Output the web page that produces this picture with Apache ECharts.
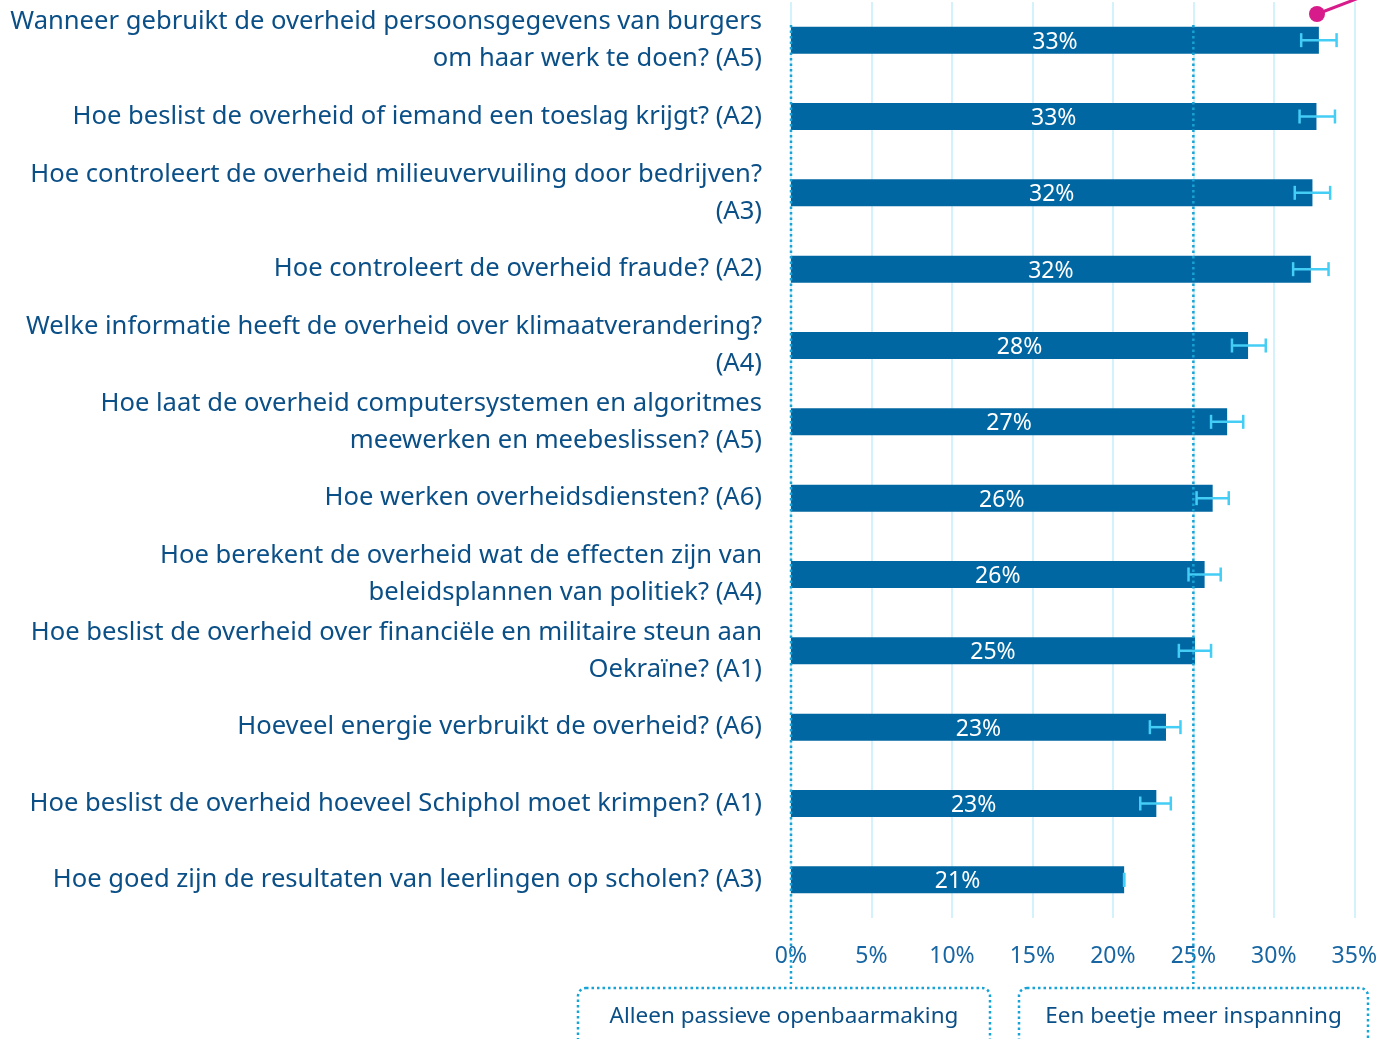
<!DOCTYPE html>
<html>
<head>
<meta charset="utf-8">
<script src="https://cdn.jsdelivr.net/npm/echarts@6/dist/echarts.min.js"></script>
<style>
  html, body { margin: 0; padding: 0; background: #fff; }
  #chart { width: 1380px; height: 1039px; }
</style>
</head>
<body>
<div id="chart"></div>
<script>
// categories top to bottom
const categories = [
  'Wanneer gebruikt de overheid persoonsgegevens van burgers\nom haar werk te doen? (A5)',
  'Hoe beslist de overheid of iemand een toeslag krijgt? (A2)',
  'Hoe controleert de overheid milieuvervuiling door bedrijven?\n(A3)',
  'Hoe controleert de overheid fraude? (A2)',
  'Welke informatie heeft de overheid over klimaatverandering?\n(A4)',
  'Hoe laat de overheid computersystemen en algoritmes\nmeewerken en meebeslissen? (A5)',
  'Hoe werken overheidsdiensten? (A6)',
  'Hoe berekent de overheid wat de effecten zijn van\nbeleidsplannen van politiek? (A4)',
  'Hoe beslist de overheid over financiële en militaire steun aan\nOekraïne? (A1)',
  'Hoeveel energie verbruikt de overheid? (A6)',
  'Hoe beslist de overheid hoeveel Schiphol moet krimpen? (A1)',
  'Hoe goed zijn de resultaten van leerlingen op scholen? (A3)'
];
const values = [32.8, 32.65, 32.4, 32.3, 28.4, 27.1, 26.2, 25.7, 25.1, 23.3, 22.7, 20.7];
const errLow = [31.7, 31.6, 31.3, 31.2, 27.4, 26.1, 25.2, 24.7, 24.1, 22.3, 21.7, 20.7];
const errHigh = [33.9, 33.8, 33.5, 33.4, 29.5, 28.1, 27.2, 26.7, 26.1, 24.2, 23.6, 20.7];
const xTicks = [0, 5, 10, 15, 20, 25, 30, 35];
const thresholds = [0, 25];
const zoneLabels = ['Alleen passieve openbaarmaking', 'Een beetje meer inspanning'];

const FONT = '"Source Sans Pro", "Noto Sans", sans-serif';
const chart = echarts.init(document.getElementById('chart'));

const option = {
  animation: false,
  textStyle: { fontFamily: FONT },
  grid: { left: 791, right: 25, top: 2, height: 916, containLabel: false },
  xAxis: {
    type: 'value',
    min: 0, max: 35, interval: 5,
    axisLine: { show: false },
    axisTick: { show: false },
    splitLine: { show: true, lineStyle: { color: '#d4f2fb', width: 2 } },
    axisLabel: {
      margin: 27,
      fontSize: 23,
      color: '#1766a3',
      fontFamily: FONT,
      formatter: v => xTicks.indexOf(v) >= 0 ? v + '%' : ''
    }
  },
  yAxis: {
    type: 'category',
    data: categories,
    inverse: true,
    axisLine: { show: false },
    axisTick: { show: false },
    axisLabel: {
      margin: 29,
      fontSize: 25.6,
      lineHeight: 37,
      color: '#0b4f87',
      align: 'right',
      fontFamily: FONT
    }
  },
  series: [
    {
      type: 'bar',
      data: values,
      barWidth: 27,
      itemStyle: { color: '#0067a2' },
      label: {
        show: true,
        position: 'inside',
        offset: [0, 2],
        color: '#fff',
        fontSize: 23,
        fontFamily: FONT,
        formatter: p => Math.round(p.value) + '%'
      },
      z: 2
    },
    {
      type: 'custom',
      z: 5,
      data: values.map((v, i) => [i, errLow[i], errHigh[i]]),
      renderItem: function (params, api) {
        const i = api.value(0);
        const lo = api.coord([api.value(1), i]);
        const hi = api.coord([api.value(2), i]);
        const h = 7;
        const style = { stroke: '#44cdf5', lineWidth: 2.5 };
        return {
          type: 'group',
          children: [
            { type: 'line', shape: { x1: lo[0], y1: lo[1], x2: hi[0], y2: hi[1] }, style },
            { type: 'line', shape: { x1: lo[0], y1: lo[1] - h, x2: lo[0], y2: lo[1] + h }, style },
            { type: 'line', shape: { x1: hi[0], y1: hi[1] - h, x2: hi[0], y2: hi[1] + h }, style }
          ]
        };
      }
    }
  ]
};
chart.setOption(option);

// dotted threshold lines and zone boxes, positioned through the axis scale
const graphics = [];
thresholds.forEach(t => {
  const x = chart.convertToPixel({ xAxisIndex: 0 }, t);
  graphics.push({
    type: 'line', z: 10,
    shape: { x1: x, y1: 25, x2: x, y2: 984 },
    style: { stroke: '#17a3d6', lineWidth: 2.5, lineDash: [2.5, 3] }
  });
});
const boxes = [[578, 990], [1019, 1368]];
boxes.forEach((b, i) => {
  graphics.push({
    type: 'rect', z: 10,
    shape: { x: b[0], y: 988, width: b[1] - b[0], height: 80, r: 8 },
    style: { fill: 'none', stroke: '#17a3d6', lineWidth: 2.5, lineDash: [2.5, 3] }
  });
  graphics.push({
    type: 'text', z: 10,
    x: (b[0] + b[1]) / 2, y: 1017,
    style: {
      text: zoneLabels[i], fill: '#0b4f87', fontSize: 22.5, fontFamily: FONT,
      align: 'center', verticalAlign: 'middle'
    }
  });
});
// pink annotation marker
graphics.push({
  type: 'line', z: 11,
  shape: { x1: 1317, y1: 14, x2: 1385, y2: -12 },
  style: { stroke: '#d81b8a', lineWidth: 3 }
});
graphics.push({
  type: 'circle', z: 11,
  shape: { cx: 1317, cy: 14, r: 8 },
  style: { fill: '#d81b8a' }
});
chart.setOption({ graphic: graphics });
</script>
</body>
</html>
